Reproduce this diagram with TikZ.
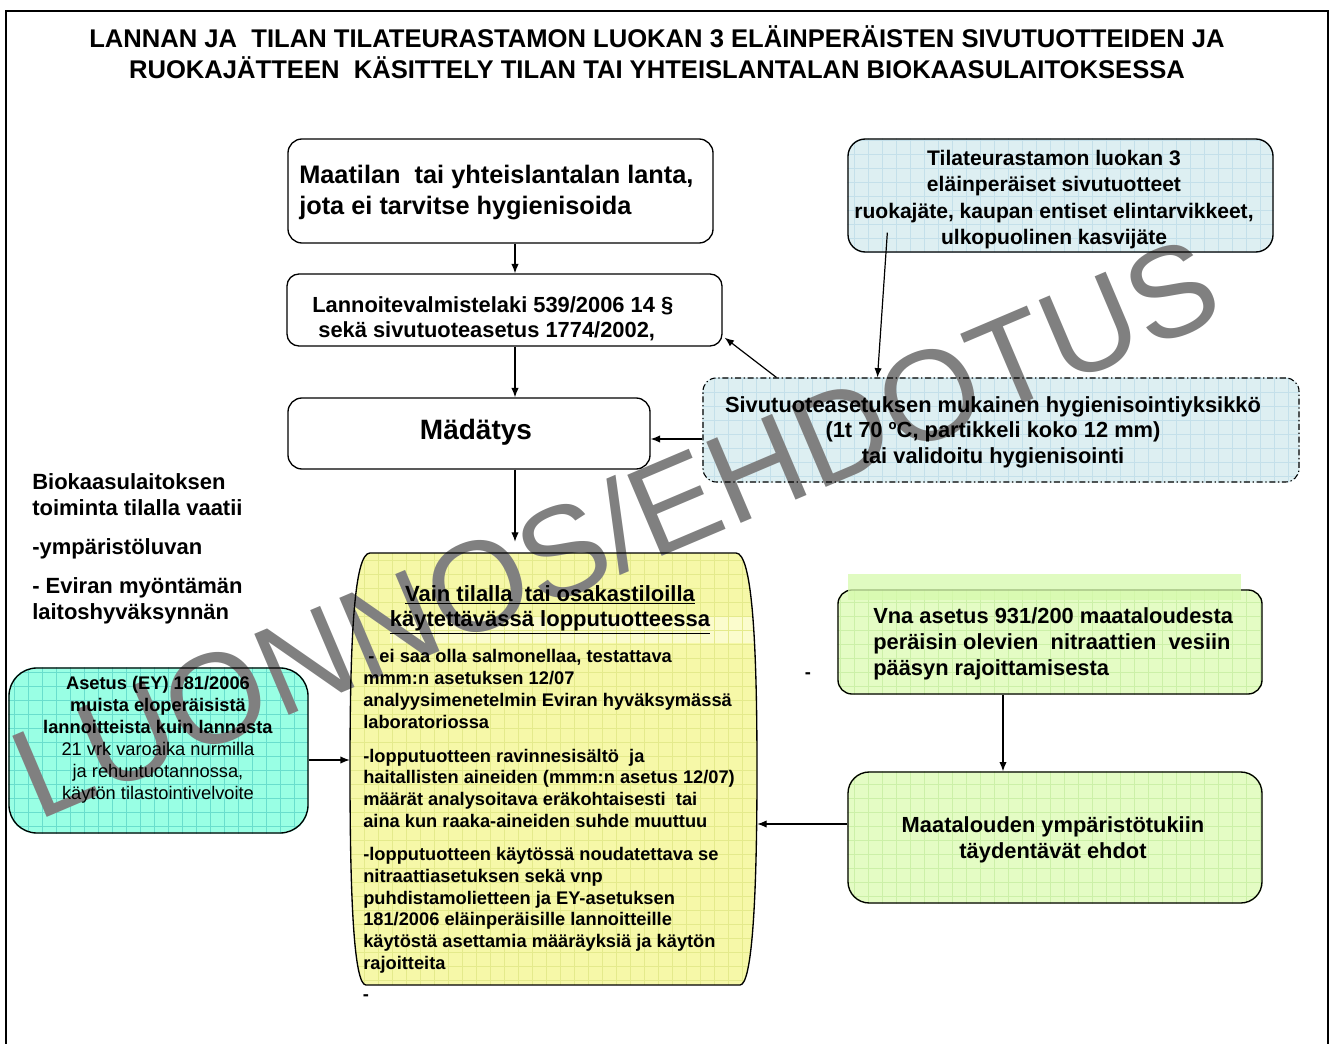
\documentclass[tikz,border=0pt]{standalone}
\usepackage{fontspec}
\setmainfont{Liberation Sans}
\usetikzlibrary{arrows.meta,calc,fit}
\pgfdeclarelayer{bg}
\pgfdeclarelayer{wm}
\pgfsetlayers{bg,wm,main}

\definecolor{bluefill}{RGB}{221,239,242}
\definecolor{bluegrid}{RGB}{196,224,234}
\definecolor{tealfill}{RGB}{153,255,228}
\definecolor{tealgrid}{RGB}{105,222,205}
\definecolor{yelfill}{RGB}{246,248,168}
\definecolor{yelgrid}{RGB}{228,234,140}
\definecolor{yelband}{RGB}{251,252,205}
\definecolor{grnfill}{RGB}{228,252,196}
\definecolor{grngrid}{RGB}{204,240,168}
\definecolor{grnband}{RGB}{214,250,172}
\definecolor{wmgray}{RGB}{128,128,128}

\newcommand\setfs[2]{\fontsize{#1}{#2}\selectfont}

% filled, gridded background of a rounded box
\newcommand\gridbox[4]{%
  \fill[#3, rounded corners=#2] (#1.north west) rectangle (#1.south east);
  \begin{scope}
    \clip[rounded corners=#2] (#1.north west) rectangle (#1.south east);
    \draw[#4, line width=0.4pt, step=10.5pt] (#1.north west) grid (#1.south east);
  \end{scope}}

\tikzset{
  box/.style={draw, line width=1pt, rounded corners=#1, inner sep=0pt},
  box/.default=10pt,
  ghost/.style={inner sep=0pt},
  arr/.style={-{Latex[length=7pt,width=5.5pt]}, line width=0.9pt},
  txt/.style={inner sep=0pt, font=\bfseries},
}

\begin{document}
\begin{tikzpicture}[x=0.75pt,y=-0.75pt]
\useasboundingbox (0,0) rectangle (1335,1044);

% outer frame (open at the bottom)
\draw[line width=1.9pt] (6,1050) -- (6,11) -- (1328,11) -- (1328,1050);

% title
\node[txt, align=center, font=\bfseries\setfs{19.2}{23.25}] (title) at (657,52.5)
  {LANNAN JA\ \ TILAN TILATEURASTAMON LUOKAN 3 ELÄINPERÄISTEN SIVUTUOTTEIDEN JA\\
   RUOKAJÄTTEEN\ \ KÄSITTELY TILAN TAI YHTEISLANTALAN BIOKAASULAITOKSESSA};

% boxes
\node[box=10.5pt, fit={(288,139) (713,243)}] (lanta) {};
\node[box=9pt,   fit={(287,274) (722,346)}] (laki) {};
\node[box=10.5pt, fit={(288,398) (650,469)}] (mad) {};
\node[box=13pt,  fit={(848,139) (1273,252)}] (tila) {};
\node[box=10pt, dash pattern={on 4.5pt off 2pt on 1pt off 2pt}, line width=0.8pt,
      fit={(703,378) (1299,482)}] (hyg) {};
\node[box=21pt,  fit={(9,668) (308,833)}] (teal) {};
\node[ghost,     fit={(350,553) (757,985)}] (yel) {};
\node[box=10.5pt, fit={(838,590) (1262,694)}] (grn1) {};
\node[box=16pt,  fit={(848,772) (1262,903)}] (grn2) {};

% outline of the end-product box
\def\yelpath{(370,553) -- (736,553) .. controls (752,553) and (757,640) .. (757,770)
  .. controls (757,900) and (752,985) .. (740,985) -- (366,985)
  .. controls (354,985) and (350,900) .. (350,770)
  .. controls (350,640) and (354,553) .. (370,553) -- cycle}
\draw[line width=1pt] \yelpath;

% lighter strip over the top of the nitrate box
\fill[grnband, opacity=0.75] (848,574) rectangle (1241,600);

% fills and grids
\begin{pgfonlayer}{bg}
  \gridbox{tila}{13pt}{bluefill}{bluegrid}
  \gridbox{hyg}{10pt}{bluefill}{bluegrid}
  \gridbox{teal}{21pt}{tealfill}{tealgrid}
  \gridbox{grn1}{10.5pt}{grnfill}{grngrid}
  \gridbox{grn2}{16pt}{grnfill}{grngrid}
  \fill[yelfill] \yelpath;
  \begin{scope}
    \clip \yelpath;
    \fill[yelband] (390,616) rectangle (757,643);
    \draw[yelgrid, line width=0.4pt, step=10.5pt] (yel.north west) grid (yel.south east);
  \end{scope}
\end{pgfonlayer}

% watermark
\begin{pgfonlayer}{wm}
  \node[inner sep=0pt, rotate=23, text=wmgray, font=\setfs{96}{96}] (mark) at (615,527) {LUONNOS/EHDOTUS};
\end{pgfonlayer}

% texts
\node[txt, anchor=west, align=left, font=\bfseries\setfs{19}{23.25}] (lantaT) at (299,192.5)
  {Maatilan\ \ tai yhteislantalan lanta,\\jota ei tarvitse hygienisoida};
\node[txt, anchor=west, align=left, font=\bfseries\setfs{16.4}{18.75}] (lakiT) at (312,318.5)
  {Lannoitevalmistelaki 539/2006 14 §\\\ sekä sivutuoteasetus 1774/2002,};
\node[txt, font=\bfseries\setfs{21}{24}] (madT) at (476,432) {Mädätys};
\node[txt, align=center, font=\bfseries\setfs{15.8}{19.7}] (tilaT) at (1054,199.5)
  {Tilateurastamon luokan 3\\eläinperäiset sivutuotteet\\ruokajäte, kaupan entiset elintarvikkeet,\\ulkopuolinen kasvijäte};
\node[txt, align=center, font=\bfseries\setfs{16.4}{19.1}] (hygT) at (993,432)
  {Sivutuoteasetuksen mukainen hygienisointiyksikkö\\(1t 70 ºC, partikkeli koko 12 mm)\\tai validoitu hygienisointi};
\node[txt, anchor=west, align=left, font=\bfseries\setfs{16.5}{19.5}] (req) at (32,548.5)
  {Biokaasulaitoksen\\toiminta tilalla vaatii\\[10pt]-ympäristöluvan\\[9.5pt]- Eviran myöntämän\\laitoshyväksynnän};
\node[txt, align=center, font=\setfs{13.7}{16.5}] (tealT) at (158,740)
  {\textbf{Asetus (EY) 181/2006}\\\textbf{muista eloperäisistä}\\\textbf{lannoitteista kuin lannasta}\\21 vrk varoaika nurmilla\\ja rehuntuotannossa,\\käytön tilastointivelvoite};
\node[txt, align=center, font=\bfseries\setfs{16.5}{18.75}] (yelH) at (550,609.5)
  {\underline{Vain tilalla\ \ tai osakastiloilla}\\\underline{käytettävässä lopputuotteessa}};
\node[txt, anchor=west, align=left, font=\bfseries\setfs{13.7}{16.35}] (yelT) at (363,811.5)
  {\ - ei saa olla salmonellaa, testattava\\mmm:n asetuksen 12/07\\analyysimenetelmin Eviran hyväksymässä\\laboratoriossa\\[9pt]
   -lopputuotteen ravinnesisältö\ \ ja\\haitallisten aineiden (mmm:n asetus 12/07)\\määrät analysoitava eräkohtaisesti\ \ tai\\aina kun raaka-aineiden suhde muuttuu\\[8.5pt]
   -lopputuotteen käytössä noudatettava se\\nitraattiasetuksen sekä vnp\\puhdistamolietteen ja EY-asetuksen\\181/2006 eläinperäisille lannoitteille\\käytöstä asettamia määräyksiä ja käytön\\rajoitteita};
\node[txt, anchor=west, align=left, font=\bfseries\setfs{16.4}{19.5}] (grn1T) at (873,644)
  {Vna asetus 931/200 maataloudesta\\peräisin olevien\ \ nitraattien\ \ vesiin\\pääsyn rajoittamisesta};
\node[txt, align=center, font=\bfseries\setfs{16.4}{19.5}] (grn2T) at (1053,840)
  {Maatalouden ympäristötukiin\\täydentävät ehdot};
\node[txt, font=\bfseries\setfs{13.7}{16}] (dashA) at (366,998) {-};
\node[txt, font=\bfseries\setfs{13.7}{16}] (dashB) at (808,676) {-};

% connectors
\coordinate (ax) at (515,0);
\coordinate (hy) at (0,439);
\coordinate (ty) at (0,760);
\coordinate (gx) at (1003,0);
\coordinate (gy) at (0,824);
\draw[arr] (lanta.south -| ax) -- (laki.north -| ax);
\draw[arr] (laki.south -| ax) -- (mad.north -| ax);
\draw[arr, shorten >=8.25pt] (mad.south -| ax) -- (yel.north -| ax);
\draw[arr] (hyg.west |- hy) -- (mad.east |- hy);
\draw[arr] ($(hyg.north west)+(74,0)$) -- ($(laki.south east)+(2,-9)$);
\draw[arr] ($(tila.south west)+(40,-20)$) -- ($(hyg.north west)+(175,0)$);
\draw[arr] (teal.east |- ty) -- (yel.west |- ty);
\draw[arr] (grn1.south -| gx) -- (grn2.north -| gx);
\draw[arr] (grn2.west |- gy) -- (yel.east |- gy);
\end{tikzpicture}
\end{document}
